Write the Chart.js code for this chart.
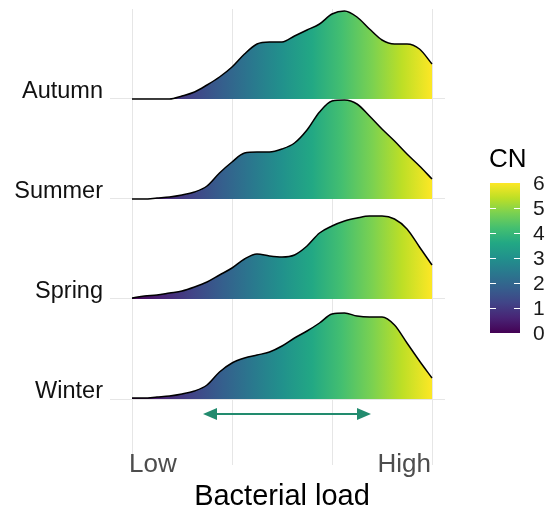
<!DOCTYPE html>
<html>
<head>
<meta charset="utf-8">
<script src="https://cdn.jsdelivr.net/npm/chart.js@4.4.1/dist/chart.umd.min.js"></script>
<style>
  body { margin: 0; background: #ffffff; }
  #wrap { width: 555px; height: 510px; }
</style>
</head>
<body>
<div id="wrap"><canvas id="ridgeChart" width="555" height="510"></canvas></div>
<script>
// categories, bottom to top
const seasons = ['Winter', 'Spring', 'Summer', 'Autumn'];

// CN values where the densities were read
const cnGrid = [0, 0.25, 0.5, 0.75, 1, 1.25, 1.5, 1.75, 2, 2.25, 2.5, 2.75, 3,
                3.25, 3.5, 3.75, 4, 4.25, 4.5, 4.75, 5, 5.25, 5.5, 5.75, 6];

// ridge heights (in units of row spacing)
const winterDensity = [0.01, 0.01, 0.02, 0.03, 0.05, 0.08, 0.14, 0.27, 0.36, 0.41, 0.44, 0.47, 0.53,
                       0.61, 0.68, 0.76, 0.85, 0.86, 0.83, 0.82, 0.82, 0.74, 0.56, 0.38, 0.21];
const springDensity = [0.01, 0.03, 0.04, 0.06, 0.08, 0.12, 0.17, 0.24, 0.31, 0.40, 0.45, 0.43, 0.42,
                       0.44, 0.53, 0.66, 0.73, 0.78, 0.81, 0.83, 0.83, 0.80, 0.70, 0.52, 0.34];
const summerDensity = [0, 0, 0.01, 0.02, 0.04, 0.07, 0.13, 0.26, 0.37, 0.46, 0.47, 0.47, 0.50,
                       0.56, 0.69, 0.87, 0.98, 0.99, 0.95, 0.83, 0.70, 0.58, 0.45, 0.33, 0.20];
const autumnDensity = [0, 0, 0, 0, 0.03, 0.07, 0.14, 0.22, 0.32, 0.45, 0.55, 0.57, 0.57,
                       0.63, 0.69, 0.75, 0.85, 0.88, 0.82, 0.70, 0.59, 0.55, 0.55, 0.50, 0.35];

const densities = [winterDensity, springDensity, summerDensity, autumnDensity];

// x tick labels and grid positions
const xTickLabels = ['Low', 'High'];
const xGridValues = [0, 2, 4, 6];

// colour bar legend
const legendTicks = [0, 1, 2, 3, 4, 5, 6];

// arrow under the ridges (CN from, CN to)
const arrowRange = [1.42, 4.78];

// viridis stops
const viridis = ['#440154', '#482475', '#414487', '#355F8D', '#2A788E', '#21918C',
                 '#22A884', '#44BF70', '#7AD151', '#BDDF26', '#FDE725'];

const FONT = '"Liberation Sans", Arial, sans-serif';

let fillCache = null;
function viridisFill(context) {
    const chart = context.chart;
    if (!chart.chartArea) return null;
    if (fillCache) return fillCache;
    const xs = chart.scales.x;
    const g = chart.ctx.createLinearGradient(xs.getPixelForValue(0), 0, xs.getPixelForValue(6), 0);
    viridis.forEach((c, i) => g.addColorStop(i / (viridis.length - 1), c));
    fillCache = g;
    return g;
}

const datasets = densities.map((dens, row) => ({
    label: seasons[row],
    data: cnGrid.map((x, i) => ({ x: x, y: row + dens[i] })),
    borderColor: '#000000',
    borderWidth: 1.5,
    pointRadius: 0,
    cubicInterpolationMode: 'monotone',
    fill: { value: row },
    backgroundColor: viridisFill,
    order: row
}));

// extras: tick words, arrow, axis title, colour bar
const extrasPlugin = {
    id: 'extras',
    afterDraw(chart) {
        const ctx = chart.ctx;
        const xs = chart.scales.x;
        const ys = chart.scales.y;
        ctx.save();

        // Low / High
        ctx.fillStyle = '#4D4D4D';
        ctx.font = '26px ' + FONT;
        ctx.textBaseline = 'alphabetic';
        ctx.textAlign = 'left';
        ctx.fillText(xTickLabels[0], xs.getPixelForValue(0) - 3, 472);
        ctx.textAlign = 'right';
        ctx.fillText(xTickLabels[1], xs.getPixelForValue(6) - 1, 472);

        // double arrow
        const ay = ys.getPixelForValue(-0.15);
        const ax0 = xs.getPixelForValue(arrowRange[0]);
        const ax1 = xs.getPixelForValue(arrowRange[1]);
        const headL = 14, headH = 6;
        ctx.strokeStyle = '#228B6E';
        ctx.fillStyle = '#228B6E';
        ctx.lineWidth = 2;
        ctx.beginPath();
        ctx.moveTo(ax0 + headL - 2, ay);
        ctx.lineTo(ax1 - headL + 2, ay);
        ctx.stroke();
        ctx.beginPath();
        ctx.moveTo(ax0, ay);
        ctx.lineTo(ax0 + headL, ay - headH);
        ctx.lineTo(ax0 + headL, ay + headH);
        ctx.closePath();
        ctx.fill();
        ctx.beginPath();
        ctx.moveTo(ax1, ay);
        ctx.lineTo(ax1 - headL, ay - headH);
        ctx.lineTo(ax1 - headL, ay + headH);
        ctx.closePath();
        ctx.fill();

        // axis title
        ctx.fillStyle = '#000000';
        ctx.font = '29px ' + FONT;
        ctx.textAlign = 'center';
        ctx.textBaseline = 'middle';
        ctx.fillText('Bacterial load', xs.getPixelForValue(3), 497);

        // colour bar
        const barL = 490, barR = 520, barTop = 183, barBot = 333;
        const vToY = v => barBot - (v / 6) * (barBot - barTop);
        const g = ctx.createLinearGradient(0, barBot, 0, barTop);
        viridis.forEach((c, i) => g.addColorStop(i / (viridis.length - 1), c));
        ctx.fillStyle = g;
        ctx.fillRect(barL, barTop, barR - barL, barBot - barTop);

        ctx.strokeStyle = '#FFFFFF';
        ctx.lineWidth = 1;
        legendTicks.slice(1, -1).forEach(v => {
            const y = Math.round(vToY(v)) + 0.5;
            ctx.beginPath();
            ctx.moveTo(barL, y); ctx.lineTo(barL + 6, y);
            ctx.moveTo(barR - 6, y); ctx.lineTo(barR, y);
            ctx.stroke();
        });

        ctx.fillStyle = '#1A1A1A';
        ctx.font = '21px ' + FONT;
        ctx.textAlign = 'left';
        ctx.textBaseline = 'middle';
        legendTicks.forEach(v => ctx.fillText(String(v), 533, vToY(v) + 1));

        ctx.font = '26px ' + FONT;
        ctx.textBaseline = 'alphabetic';
        ctx.fillStyle = '#000000';
        ctx.fillText('CN', 489, 167);

        ctx.restore();
    }
};

function noPad(scale) {
    scale.paddingTop = 0;
    scale.paddingBottom = 0;
    scale.paddingLeft = 0;
    scale.paddingRight = 0;
}

const ctx = document.getElementById('ridgeChart').getContext('2d');
const ridgeChart = new Chart(ctx, {
    type: 'line',
    data: { datasets: datasets },
    options: {
        responsive: false,
        animation: false,
        layout: { padding: { left: 0, right: 110, top: 9, bottom: 45 } },
        plugins: {
            legend: { display: false },
            tooltip: { enabled: false }
        },
        scales: {
            x: {
                type: 'linear',
                min: -0.44,
                max: 6.26,
                afterBuildTicks: scale => { scale.ticks = xGridValues.map(v => ({ value: v })); },
                afterFit: scale => { noPad(scale); scale.height = 0; },
                ticks: { display: false },
                grid: { color: '#E6E6E6', lineWidth: 1, drawTicks: false },
                border: { display: false }
            },
            y: {
                type: 'linear',
                min: -0.66,
                max: 3.9,
                afterBuildTicks: scale => { scale.ticks = seasons.map((s, i) => ({ value: i })); },
                afterFit: scale => { noPad(scale); scale.width = 110; },
                ticks: {
                    callback: v => seasons[v],
                    color: '#111111',
                    font: { family: FONT, size: 23.5 },
                    padding: 7,
                    labelOffset: -7
                },
                grid: { color: '#E6E6E6', lineWidth: 1, drawTicks: false },
                border: { display: false }
            }
        }
    },
    plugins: [extrasPlugin]
});
</script>
</body>
</html>
